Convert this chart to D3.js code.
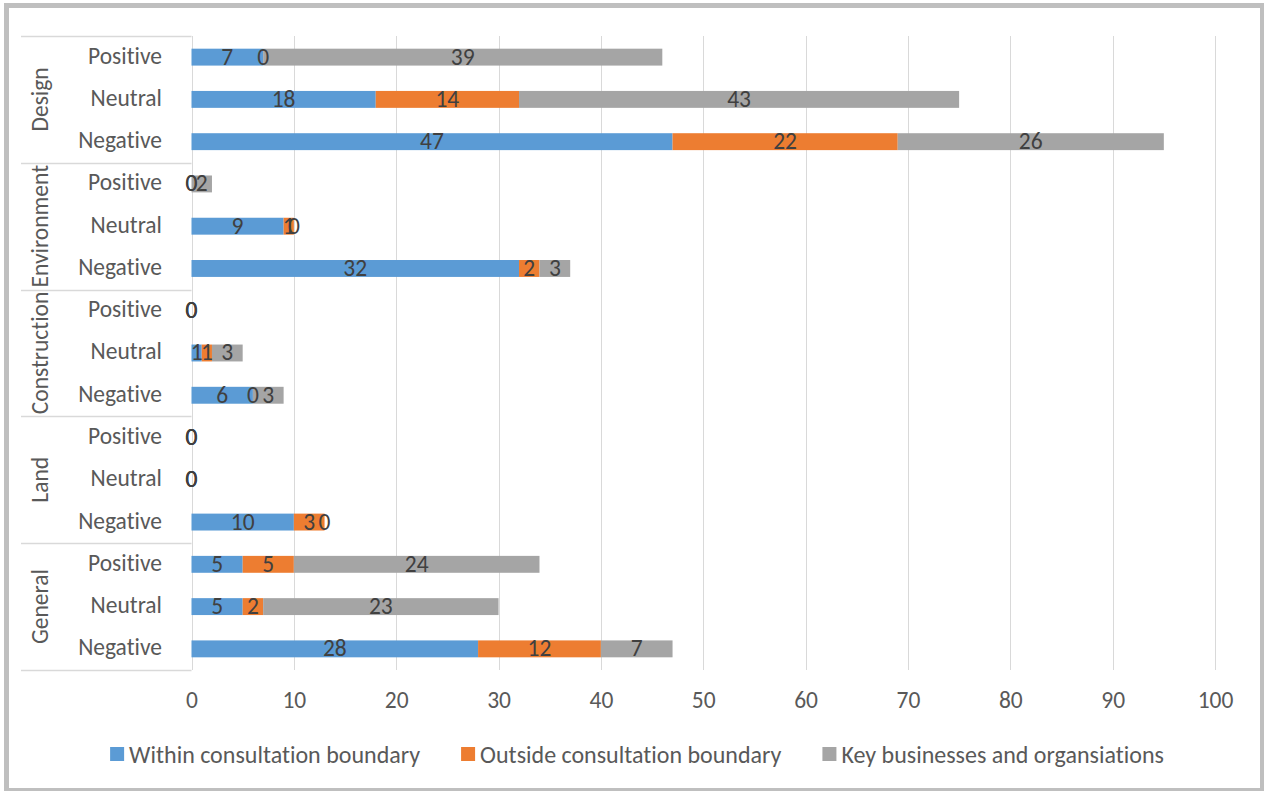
<!DOCTYPE html>
<html><head><meta charset="utf-8">
<script src="https://cdn.jsdelivr.net/npm/d3@7"></script>
<style>
html,body{margin:0;padding:0;background:#fff;}
svg text{font-family:Carlito, Lato, "Open Sans", sans-serif;font-variant-ligatures:none;}
</style></head>
<body>
<svg id="chart" width="1264" height="791"></svg>
<script>
const groups = ["Design","Environment","Construction","Land","General"];
const sentiments = ["Positive","Neutral","Negative"];
const seriesNames = ["Within consultation boundary","Outside consultation boundary","Key businesses and organsiations"];
const seriesColors = ["#5b9bd5","#ed7d31","#a5a5a5"];
// values per group, per sentiment: [within, outside, key]
const within  = [7,18,47, 0,9,32, 0,1,6, 0,0,10, 5,5,28];
const outside = [0,14,22, 0,1,2, 0,1,0, 0,0,3, 5,2,12];
const keyOrgs = [39,43,26, 2,0,3, 0,3,3, 0,0,0, 24,23,7];
const xTicks = [0,10,20,30,40,50,60,70,80,90,100];

(function(){
const svg = d3.select("#chart");
const FS = 23.5;
const pLeft = 191.5, pRight = 1215, pTop = 36, pBottom = 670;
const x = d3.scaleLinear().domain([0,100]).range([pLeft,pRight]);
const rows = [];
groups.forEach((g,gi)=>sentiments.forEach((s,si)=>rows.push({g,s,i:gi*3+si})));
const y = d3.scaleBand().domain(rows.map(r=>r.i)).range([pTop,pBottom]).paddingInner(0.6).paddingOuter(0.3);
const step = (pBottom-pTop)/rows.length;

svg.append("rect").attr("x",6.5).attr("y",5.5).attr("width",1256).attr("height",785)
  .attr("fill","#fff").attr("stroke","#bfbfbf").attr("stroke-width",5);

svg.append("g").selectAll("line").data(xTicks).join("line")
  .attr("x1",d=>Math.round(x(d))+0.5).attr("x2",d=>Math.round(x(d))+0.5)
  .attr("y1",pTop).attr("y2",pBottom).attr("stroke","#d9d9d9").attr("stroke-width",1);

const sepY = d3.range(groups.length+1).map(k=>pTop+k*3*step);
svg.append("g").selectAll("line").data(sepY).join("line")
  .attr("x1",21).attr("x2",pLeft).attr("y1",d=>Math.round(d)+0.5).attr("y2",d=>Math.round(d)+0.5)
  .attr("stroke","#d9d9d9").attr("stroke-width",1.5);

const table = rows.map(r=>({i:r.i, a:within[r.i], b:outside[r.i], c:keyOrgs[r.i]}));
const stacked = d3.stack().keys(["a","b","c"])(table);

const bars = svg.append("g");
stacked.forEach((layer,li)=>{
  bars.append("g").attr("fill",seriesColors[li]).selectAll("rect").data(layer).join("rect")
    .attr("x",d=>x(d[0])).attr("width",d=>x(d[1])-x(d[0]))
    .attr("y",d=>y(d.data.i)).attr("height",y.bandwidth());
});
const labels = svg.append("g").attr("fill","#404040").attr("font-size",FS).attr("text-anchor","middle");
stacked.forEach((layer,li)=>{
  labels.append("g").selectAll("text").data(layer).join("text")
    .attr("x",d=>x((d[0]+d[1])/2)).attr("y",d=>y(d.data.i)+y.bandwidth()/2 - 1)
    .attr("dy","0.36em").text(d=>d[1]-d[0]);
});

svg.append("g").attr("fill","#595959").attr("font-size",FS).attr("text-anchor","end")
  .selectAll("text").data(rows).join("text")
  .attr("x",162).attr("y",d=>y(d.i)+y.bandwidth()/2 - 2).attr("dy","0.36em").text(d=>d.s);

svg.append("g").attr("fill","#595959").attr("font-size",FS).attr("text-anchor","middle")
  .selectAll("text").data(groups).join("text")
  .attr("transform",(d,k)=>`translate(40,${pTop+(k*3+1.5)*step}) rotate(-90)`)
  .attr("dy","0.36em").text(d=>d);

const xAxis = d3.axisBottom(x).tickValues(xTicks).tickSize(0).tickPadding(0);
const ax = svg.append("g").attr("transform",`translate(0,${pBottom})`).call(xAxis);
ax.select(".domain").remove();
ax.attr("font-family",null).attr("font-size",null);
ax.selectAll("text").attr("font-size",FS).attr("fill","#595959")
  .attr("y",30).attr("dy","0.36em");

const leg = svg.append("g").attr("font-size",24).attr("fill","#595959");
const items = leg.selectAll("g").data(seriesNames).join("g");
items.append("rect").attr("width",14).attr("height",14).attr("y",-7).attr("fill",(d,k)=>seriesColors[k]);
items.append("text").attr("x",19).attr("dy","0.36em").text(d=>d);
const widths = [];
items.each(function(){ widths.push(19+this.querySelector("text").getComputedTextLength()); });
const gap = 41;
const total = d3.sum(widths)+gap*(widths.length-1);
let cx = 637 - total/2;
items.each(function(d,k){ d3.select(this).attr("transform",`translate(${cx},754)`); cx += widths[k]+gap; });
})();
</script>
</body></html>
